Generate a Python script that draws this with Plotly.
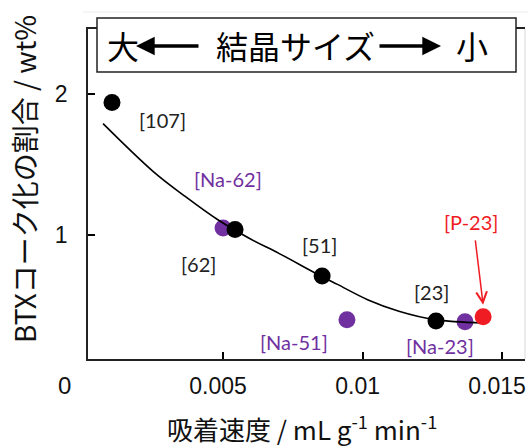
import plotly.graph_objects as go

# Zeolite samples (black): adsorption rate vs. BTX coking fraction
sample_labels = ["[107]", "[62]", "[51]", "[23]"]
sample_x = [0.00102, 0.00543, 0.00855, 0.01263]
sample_y = [1.94, 1.04, 0.71, 0.39]

# Na-type samples (purple)
na_labels = ["[Na-62]", "[Na-51]", "[Na-23]"]
na_x = [0.00500, 0.00944, 0.01367]
na_y = [1.05, 0.40, 0.385]

# P-modified sample (red)
p_labels = ["[P-23]"]
p_x = [0.01432]
p_y = [0.42]

# Trend curve
curve_x = [0.0007, 0.0025, 0.0036, 0.0048, 0.0060, 0.0070, 0.0085, 0.0091,
           0.0102, 0.0113, 0.0126, 0.0143]
curve_y = [1.79, 1.45, 1.28, 1.11, 0.97, 0.87, 0.71, 0.65,
           0.54, 0.46, 0.40, 0.376]

x_ticks = [0.005, 0.01, 0.015]
x_ticktext = ["0.005", "0.01", "0.015"]
y_ticks = [1, 2]
y_ticktext = ["1", "2"]

X_RANGE = [0.00016, 0.01582]
Y_RANGE = [0.121, 2.461]

BLACK = "#000000"
PURPLE = "#7030a0"
RED = "#f01c24"
LABEL_FONT = "Lato, 'Open Sans', sans-serif"
TICK_FONT = "'Liberation Sans', Arial, sans-serif"
CJK_FONT = "'Noto Sans CJK JP', 'Noto Sans CJK SC', sans-serif"

fig = go.Figure()

fig.add_trace(go.Scatter(x=na_x, y=na_y, mode="markers",
                         marker=dict(size=17, color=PURPLE), hoverinfo="skip"))
fig.add_trace(go.Scatter(x=curve_x, y=curve_y, mode="lines",
                         line=dict(color=BLACK, width=1.6, shape="spline", smoothing=1.0),
                         hoverinfo="skip"))
fig.add_trace(go.Scatter(x=sample_x, y=sample_y, mode="markers",
                         marker=dict(size=17, color=BLACK), hoverinfo="skip"))
fig.add_trace(go.Scatter(x=p_x, y=p_y, mode="markers",
                         marker=dict(size=17, color=RED), hoverinfo="skip"))
# empty trace that attaches the overlay axis carrying the inner y ticks
fig.add_trace(go.Scatter(x=[], y=[], yaxis="y2", hoverinfo="skip"))

# point labels, offset in pixels from their markers
sample_shift = [(50, -18), (-37, -35), (-3, 31), (-4, 29)]
na_shift = [(5, 49), (-53, -22), (-25, -24)]
p_shift = [(-12, 95)]

annotations = []
for lab, x, y, (dx, dy) in zip(sample_labels, sample_x, sample_y, sample_shift):
    annotations.append(dict(x=x, y=y, text=lab, showarrow=False, xshift=dx, yshift=dy,
                            font=dict(family=LABEL_FONT, size=20, color="#222222")))
for lab, x, y, (dx, dy) in zip(na_labels, na_x, na_y, na_shift):
    annotations.append(dict(x=x, y=y, text=lab, showarrow=False, xshift=dx, yshift=dy,
                            font=dict(family=LABEL_FONT, size=20, color=PURPLE)))
for lab, x, y, (dx, dy) in zip(p_labels, p_x, p_y, p_shift):
    annotations.append(dict(x=x, y=y, text=lab, showarrow=False, xshift=dx, yshift=dy,
                            font=dict(family=LABEL_FONT, size=20, color=RED)))

# red pointer arrow onto the P-23 marker
annotations.append(dict(x=p_x[0], y=p_y[0], text="", showarrow=True, yshift=12,
                        ax=-8, ay=-66, arrowhead=5, arrowsize=1.4, arrowwidth=1.5,
                        arrowcolor=RED, standoff=0))

# plot-area geometry in pixels (for paper coordinates)
W, H = 528, 448
L, R, T, B = 88, 3, 29, 89
PW, PH = W - L - R, H - T - B


def px(xp):
    return (xp - L) / PW


def py(yp):
    return (H - B - yp) / PH


def paper_text(xp, yp, text, size, family, color=BLACK, **kw):
    return dict(xref="paper", yref="paper", x=px(xp), y=py(yp), text=text,
                showarrow=False, xanchor="center", yanchor="middle",
                font=dict(family=family, size=size, color=color), **kw)


# crystal-size banner
annotations += [
    paper_text(123, 45, "大", 32, CJK_FONT),
    paper_text(295, 45, "結晶サイズ", 32, CJK_FONT),
    paper_text(472, 45, "小", 32, CJK_FONT),
    dict(xref="paper", yref="paper", x=px(136), y=py(46), text="", showarrow=True,
         ax=64, ay=0, arrowhead=2, arrowsize=1.1, arrowwidth=3.4, arrowcolor=BLACK,
         standoff=0),
    dict(xref="paper", yref="paper", x=px(441), y=py(46), text="", showarrow=True,
         ax=-63, ay=0, arrowhead=2, arrowsize=1.1, arrowwidth=3.4, arrowcolor=BLACK,
         standoff=0),
    # origin label
    paper_text(64, 385, "0", 24, TICK_FONT, "#111111"),
    # axis titles
    paper_text(302, 427, "吸着速度 / mL g<sup>-1</sup> min<sup>-1</sup>", 26, CJK_FONT, "#111111"),
    paper_text(24, 179, "BTXコーク化の割合 / wt%", 28, CJK_FONT, "#111111", textangle=-90),
]

shapes = [
    dict(type="rect", xref="paper", yref="paper", x0=px(97), x1=px(516), y0=py(72), y1=py(18),
         line=dict(color="#222222", width=1.5), fillcolor="white", layer="above"),
    dict(type="line", xref="paper", yref="paper", x0=px(525), x1=px(525), y0=0, y1=1,
         line=dict(color="#d8d8d8", width=1), layer="below"),
    dict(type="line", xref="paper", yref="paper", x0=px(83), x1=1.01, y0=py(12), y1=py(12),
         line=dict(color="#ececec", width=1), layer="below"),
]

tick_font = dict(family=TICK_FONT, size=23, color="#111111")

fig.update_layout(
    width=W, height=H,
    margin=dict(l=L, r=R, t=T, b=B, autoexpand=False),
    paper_bgcolor="white", plot_bgcolor="white",
    showlegend=False,
    annotations=annotations,
    shapes=shapes,
    xaxis=dict(range=X_RANGE, tickvals=x_ticks, ticktext=x_ticktext,
               ticks="inside", ticklen=7, tickwidth=1.5, tickcolor=BLACK,
               showline=True, linecolor="#222222", linewidth=1.5, mirror=True,
               showgrid=False, zeroline=False, ticklabelstandoff=6,
               ticklabelshift=-5, ticklabeloverflow="allow", automargin=False,
               tickfont=tick_font),
    # labelled y axis: transparent outer ticks set the label gap
    yaxis=dict(range=Y_RANGE, tickvals=y_ticks, ticktext=y_ticktext,
               ticks="outside", ticklen=14, tickcolor="rgba(0,0,0,0)",
               showline=True, linecolor="#222222", linewidth=1.5,
               showgrid=False, zeroline=False, automargin=False,
               tickfont=tick_font),
    # overlay y axis: inner tick marks only
    yaxis2=dict(range=Y_RANGE, overlaying="y", side="left", anchor="x",
                tickvals=y_ticks, showticklabels=False,
                ticks="inside", ticklen=7, tickwidth=1.5, tickcolor=BLACK,
                showline=False, showgrid=False, zeroline=False, automargin=False),
)

fig.write_html("out.html")
